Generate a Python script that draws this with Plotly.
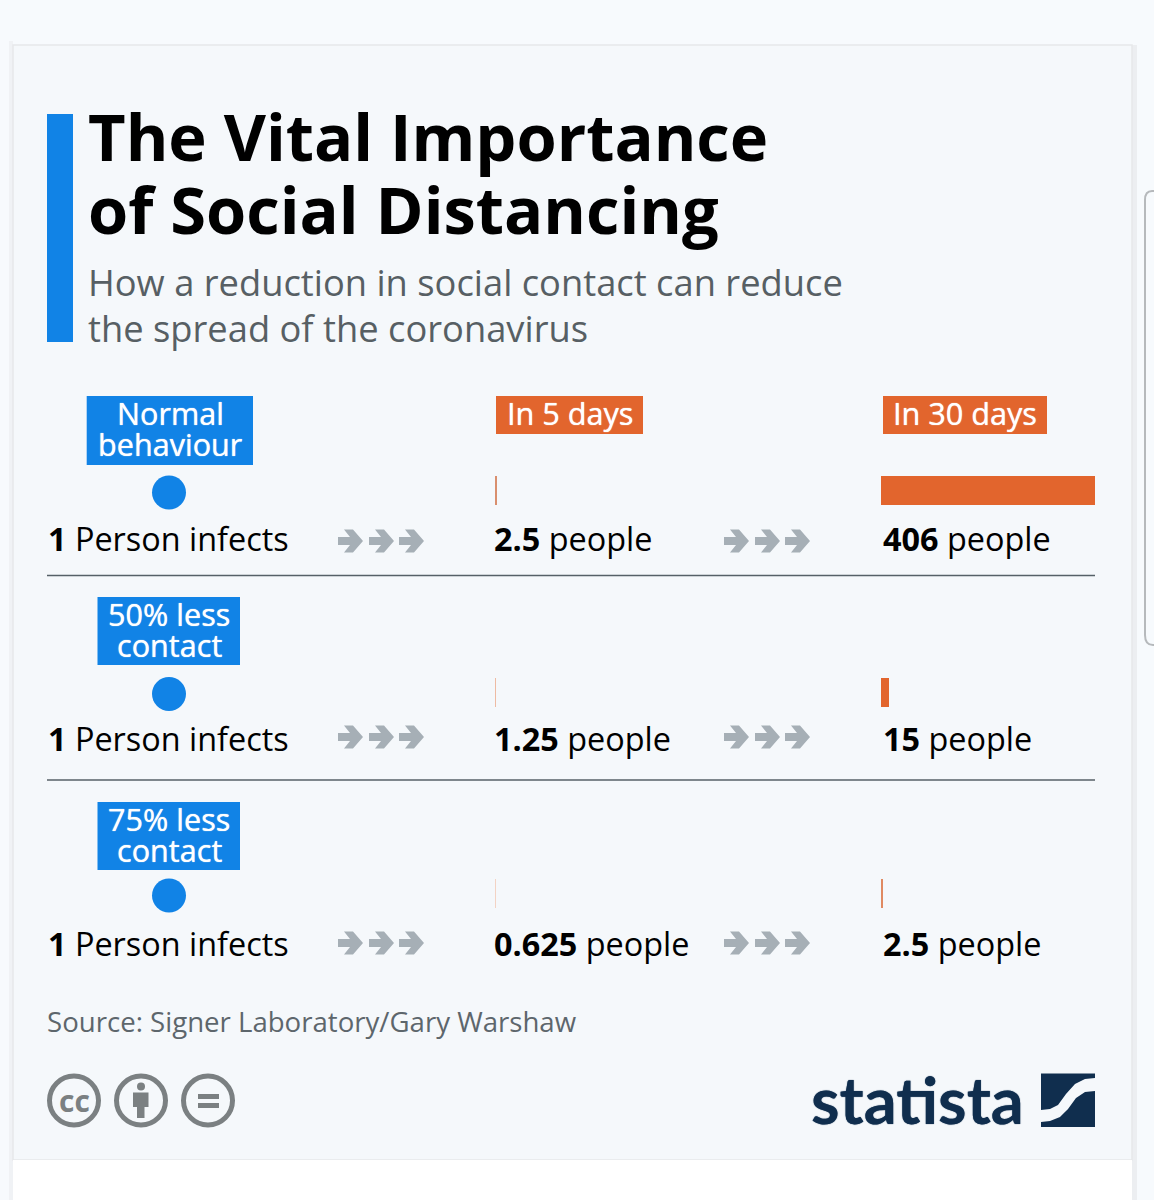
import plotly.graph_objects as go

W, H = 1154, 1200

# chart values
scenarios = ["Normal behaviour", "50% less contact", "75% less contact"]
scenario_lines = [["Normal", "behaviour"], ["50% less", "contact"], ["75% less", "contact"]]
people_start = [1, 1, 1]
people_5_days = [2.5, 1.25, 0.625]
people_30_days = [406, 15, 2.5]
title_lines = ["The Vital Importance", "of Social Distancing"]
subtitle_lines = ["How a reduction in social contact can reduce", "the spread of the coronavirus"]
source_text = "Source: Signer Laboratory/Gary Warshaw"

BLUE = "#1183e6"
ORANGE = "#e2652d"
NAVY = "#102e4e"
ICON_GREY = "#7b8082"
ARROW_GREY = "#a6afb6"
CARD = "#f5f8fb"
PAGE = "#f7fafd"
FONT = "Open Sans"
TAG_SHADOW = "0 0 1px #ffffff"


def px(x):
    return x / W


def py(y):
    return 1 - y / H


def rect(x0, y0, x1, y1, color, line=None, width=0, layer="below"):
    return dict(type="rect", xref="paper", yref="paper", x0=px(x0), x1=px(x1), y0=py(y0), y1=py(y1),
                fillcolor=color, line=dict(color=line, width=width), layer=layer)


def circle(cx, cy, r, fill, line=None, width=0):
    return dict(type="circle", xref="paper", yref="paper", x0=px(cx - r), x1=px(cx + r), y0=py(cy - r), y1=py(cy + r),
                fillcolor=fill, line=dict(color=line, width=width), layer="above")


def poly(points, color):
    path = "M " + " L ".join(f"{px(x):.5f},{py(y):.5f}" for x, y in points) + " Z"
    return dict(type="path", xref="paper", yref="paper", path=path, fillcolor=color, line=dict(width=0), layer="above")


def arrow(x, y):
    pts = [(0, 7.5), (12, 7.5), (6, 0), (15, 0), (25, 11.5), (15, 23), (6, 23), (12, 15.5), (0, 15.5)]
    return poly([(x + a, y + b - 11.5) for a, b in pts], ARROW_GREY)


def label(x, y, text, size, color="#000000", anchor="left", family=FONT, shadow=None):
    font = dict(family=family, size=size, color=color)
    if shadow:
        font["shadow"] = shadow
    return dict(xref="paper", yref="paper", x=px(x), y=py(y), text=text, showarrow=False, xanchor=anchor,
                yanchor="middle", borderpad=0, font=font)


fig = go.Figure()

# 5 day and 30 day bars share one scale, the dot column has its own axis
tints_5 = ["#d98f6e", "#eebba3", "#f3d3c4"]
tints_30 = [ORANGE, ORANGE, "#e08a62"]
fig.add_trace(go.Bar(y=scenarios, x=people_5_days, orientation="h", width=0.144, xaxis="x", yaxis="y",
                     marker=dict(color=tints_5, line=dict(width=0)), showlegend=False))
fig.add_trace(go.Bar(y=scenarios, x=people_30_days, orientation="h", width=0.144, xaxis="x2", yaxis="y",
                     marker=dict(color=tints_30, line=dict(width=0)), showlegend=False))
fig.add_trace(go.Scatter(y=scenarios, x=people_start, mode="markers", xaxis="x3", yaxis="y2",
                         marker=dict(size=34, color=BLUE, line=dict(width=0)), showlegend=False))

shapes = [
    # page, card and the neighbouring card cut off at the right
    rect(0, 0, W, H, PAGE),
    rect(1132, 45, 1137, H, "#eceef1"),
    rect(9, 41, 13, H, "#f0f2f5"),
    rect(13, 45, 1132, 1160, CARD, "#e6e8ea", 1.5),
    rect(13, 1160, 1132, H, "#ffffff"),
    dict(type="path", xref="paper", yref="paper", layer="below", line=dict(color="#b6b9bc", width=2),
         path=f"M {px(1160)},{py(191)} L {px(1152)},{py(191)} Q {px(1145)},{py(191)} {px(1145)},{py(200)} "
              f"L {px(1145)},{py(635)} Q {px(1145)},{py(645)} {px(1153)},{py(645)} L {px(1160)},{py(645)}"),
    rect(47, 114, 73, 342, BLUE),
    # row separators
    rect(47, 574.8, 1095, 576.2, "#566067"),
    rect(47, 779.3, 1095, 780.7, "#566067"),
    # tags
    rect(86.7, 396, 253, 465, BLUE),
    rect(97.5, 597, 240, 665, BLUE),
    rect(97.5, 802, 240, 870, BLUE),
    rect(496, 396, 643, 434, ORANGE),
    rect(883, 396, 1047, 434, ORANGE),
]

for y in [541, 737, 943]:
    for x in [338, 724]:
        shapes += [arrow(x, y), arrow(x + 31, y), arrow(x + 61, y)]

# licence icons
shapes += [circle(74, 1100.5, 24.5, CARD, ICON_GREY, 5), circle(141, 1100.5, 24.5, CARD, ICON_GREY, 5),
           circle(208, 1100.5, 24.5, CARD, ICON_GREY, 5), circle(141, 1086.5, 4, ICON_GREY),
           poly([(133, 1092.5), (148.5, 1092.5), (148.5, 1107), (144.5, 1107), (144.5, 1118), (137, 1118), (137, 1107), (133, 1107)], ICON_GREY),
           rect(198, 1094, 219, 1099, ICON_GREY, layer="above"), rect(198, 1103, 219, 1108, ICON_GREY, layer="above")]

# statista mark
shapes += [
    poly([(1041, 1073.5), (1095, 1073.5), (1095, 1078), (1085, 1079), (1075, 1084), (1066, 1094), (1058, 1105), (1050, 1109), (1041, 1110)], NAVY),
    poly([(1041, 1127), (1095, 1127), (1095, 1091), (1085, 1092), (1076, 1098), (1068, 1109), (1060, 1117), (1050, 1121), (1041, 1122)], NAVY),
]

annotations = [
    label(87, 136, f"<b>{title_lines[0]}</b>", 65),
    label(87, 209, f"<b>{title_lines[1]}</b>", 65),
    label(87, 282.5, subtitle_lines[0], 36.3, "#575f64"),
    label(87, 327.5, subtitle_lines[1], 36.3, "#575f64"),
    label(46, 1021.5, source_text, 27.6, "#5d666c"),
    label(74, 1100, "<b>cc</b>", 30, ICON_GREY, "center"),
    label(1025, 1099, "<b>statista</b>", 65, NAVY, "right", "Lato", "0 0 1px #102e4e"),
    label(569.5, 413, "In 5 days", 30.6, "#ffffff", "center", shadow=TAG_SHADOW),
    label(965, 413, "In 30 days", 30.6, "#ffffff", "center", shadow=TAG_SHADOW),
]

tag_y = [(413, 444), (613.5, 644.5), (818.5, 849.5)]
tag_x = [170, 169, 169]
for lines, ys, x in zip(scenario_lines, tag_y, tag_x):
    annotations += [label(x, ys[0], lines[0], 30.6, "#ffffff", "center", shadow=TAG_SHADOW),
                    label(x, ys[1], lines[1], 30.6, "#ffffff", "center", shadow=TAG_SHADOW)]

row_y = [538, 738, 943]
for y, start, five, thirty in zip(row_y, people_start, people_5_days, people_30_days):
    annotations += [label(47, y, f"<b>{start}</b> Person infects", 32.4),
                    label(493, y, f"<b>{five}</b> people", 32.4),
                    label(882, y, f"<b>{thirty}</b> people", 32.4)]

hidden = dict(visible=False, fixedrange=True)
cat_axis = dict(type="category", categoryorder="array", categoryarray=scenarios, range=[2.5, -0.5], **hidden)
fig.update_layout(
    width=W, height=H, margin=dict(l=0, r=0, t=0, b=0), autosize=False,
    paper_bgcolor=PAGE, plot_bgcolor="rgba(0,0,0,0)",
    xaxis=dict(domain=[px(495), px(709)], range=[0, 406], anchor="y", **hidden),
    xaxis2=dict(domain=[px(881), px(1095)], range=[0, 406], anchor="y", **hidden),
    xaxis3=dict(domain=[px(119), px(219)], range=[0, 2], anchor="y2", **hidden),
    yaxis=dict(domain=[py(994.75), py(390.25)], **cat_axis),
    yaxis2=dict(domain=[py(996.25), py(391.75)], anchor="x3", **cat_axis),
    shapes=shapes, annotations=annotations, bargap=0,
)

fig.write_html("out.html", config=dict(displayModeBar=False), post_script="document.body.style.margin='0';")
